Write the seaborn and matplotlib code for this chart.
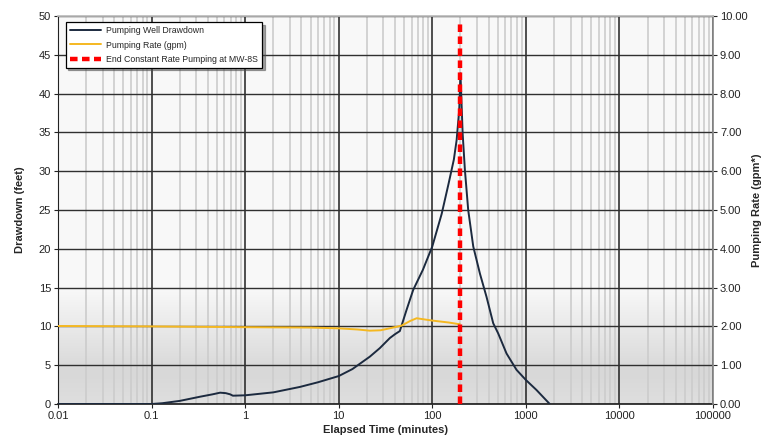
import numpy as np
import pandas as pd
import matplotlib
matplotlib.use("Agg")
import matplotlib.pyplot as plt
from matplotlib.colors import LinearSegmentedColormap
from matplotlib.lines import Line2D
import seaborn as sns

# Pumping well drawdown (feet) vs elapsed time (minutes)
drawdown_time = [0.01, 0.05, 0.1, 0.13, 0.2, 0.33, 0.45, 0.54, 0.62, 0.69, 0.74, 1.0,
                 2.0, 3.85, 6.0, 10.0, 14.0, 21.5, 27.5, 35.2, 40.0, 45.0, 53.0, 62.5,
                 79.4, 100.0, 126.0, 150.0, 170.0, 182.0, 194.0, 200.0, 211.0, 223.0,
                 242.0, 274.0, 323.0, 380.0, 448.0, 506.0, 622.0, 795.0, 1000.0,
                 1300.0, 1800.0]
drawdown_ft = [0.0, 0.0, 0.0, 0.1, 0.4, 0.94, 1.25, 1.46, 1.4, 1.25, 1.07, 1.12,
               1.5, 2.2, 2.8, 3.6, 4.5, 6.1, 7.2, 8.5, 9.0, 9.4, 12.1, 14.7,
               17.3, 20.3, 24.5, 28.5, 31.5, 34.0, 37.9, 42.6, 34.9, 30.2,
               25.0, 20.3, 16.8, 13.8, 10.4, 9.1, 6.5, 4.4, 3.1,
               1.8, 0.0]

# Pumping rate (gpm*) vs elapsed time (minutes)
rate_time = [0.01, 0.1, 1.0, 5.0, 10.0, 16.0, 21.5, 28.0, 35.0, 47.0, 58.0, 68.0,
             100.0, 150.0, 190.0, 196.0]
rate_gpm = [2.01, 2.0, 1.98, 1.97, 1.95, 1.92, 1.89, 1.90, 1.95, 2.02, 2.14, 2.21,
            2.15, 2.10, 2.06, 2.07]

END_PUMPING_TIME = 200.0

drawdown_df = pd.DataFrame({"time": drawdown_time, "drawdown": drawdown_ft})
rate_df = pd.DataFrame({"time": rate_time, "rate": rate_gpm})

sns.set_theme(style="white")
plt.rcParams["font.family"] = ["Liberation Sans", "DejaVu Sans"]

fig = plt.figure(figsize=(7.66, 4.41), dpi=100)
ax = fig.add_axes([58 / 766, 1 - 404 / 441, 655 / 766, 388 / 441])
ax2 = ax.twinx()

# plot-area background: light on top, shading to grey toward the bottom
grad = np.concatenate([
    np.full(70, 0.0),
    np.linspace(0.0, 1.0, 22),
    np.linspace(1.0, 0.8, 8),
]).reshape(-1, 1)
cmap = LinearSegmentedColormap.from_list("bg", ["#f8f8f8", "#d8d8d8"])
ax.imshow(grad, cmap=cmap, aspect="auto", extent=[0, 1, 0, 1],
          transform=ax.transAxes, origin="upper", zorder=0, vmin=0, vmax=1,
          interpolation="bilinear")

ax.set_xscale("log")
ax.set_xlim(0.01, 100000)
ax.set_ylim(0, 50)
ax2.set_ylim(0, 10)

# grid
ax.set_yticks(np.arange(0, 51, 5))
ax.set_xticks([10.0 ** k for k in range(-2, 6)])
ax.set_xticklabels(["0.01", "0.1", "1", "10", "100", "1000", "10000", "100000"])
ax.xaxis.set_minor_locator(matplotlib.ticker.LogLocator(base=10, subs=np.arange(2, 10), numticks=100))
ax.xaxis.set_minor_formatter(matplotlib.ticker.NullFormatter())
ax.grid(True, which="minor", axis="x", color="#cccccc", linewidth=1.2, zorder=1)
ax.grid(True, which="major", axis="x", color="#202020", linewidth=1.1, zorder=1)
ax.grid(True, which="major", axis="y", color="#303030", linewidth=1.0, zorder=1)
ax.set_axisbelow(True)

sns.lineplot(data=drawdown_df, x="time", y="drawdown", ax=ax, color="#1c2a3f",
             linewidth=1.4, zorder=3, legend=False)
sns.lineplot(data=rate_df, x="time", y="rate", ax=ax2, color="#f5b820",
             linewidth=1.4, zorder=3, legend=False)
ax2.axvline(END_PUMPING_TIME, ymin=0, ymax=0.99, color="#ff0000", linewidth=3.2,
            linestyle=(0, (1.7, 1.0)), zorder=4)

ax2.set_yticks(np.arange(0, 10.01, 1))
ax2.set_yticklabels([f"{v:.2f}" for v in np.arange(0, 10.01, 1)])

for a in (ax, ax2):
    for s in a.spines.values():
        s.set_visible(False)
ax.spines["bottom"].set_visible(True)
ax.spines["bottom"].set_color("#222222")
ax.spines["left"].set_visible(True)
ax.spines["left"].set_color("#222222")
ax.spines["left"].set_linewidth(0.8)
ax2.spines["right"].set_visible(True)
ax2.spines["right"].set_color("#888888")
ax2.spines["top"].set_visible(True)
ax2.spines["top"].set_color("#bbbbbb")

ax.tick_params(axis="both", which="major", labelsize=8, colors="#222222",
               length=3, width=0.8, direction="out", left=True, bottom=True, pad=2)
ax.tick_params(axis="x", which="minor", length=0)
ax2.tick_params(axis="y", labelsize=8, colors="#222222", length=3, width=0.8,
                direction="out", right=True, pad=2)

ax.set_xlabel("Elapsed Time (minutes)", fontsize=8, fontweight="bold", labelpad=3)
ax.set_ylabel("Drawdown (feet)", fontsize=8, fontweight="bold", labelpad=10)
ax2.set_ylabel("Pumping Rate (gpm*)", fontsize=8, fontweight="bold", labelpad=3)

handles = [
    Line2D([], [], color="#1c2a3f", linewidth=1.4),
    Line2D([], [], color="#f5b820", linewidth=1.4),
    Line2D([], [], color="#ff0000", linewidth=3.2, linestyle=(0, (1.7, 1.0))),
]
labels = ["Pumping Well Drawdown", "Pumping Rate (gpm)", "End Constant Rate Pumping at MW-8S"]
leg = ax2.legend(handles, labels, loc="upper left", bbox_to_anchor=(0.005, 0.995),
                 fontsize=6.3, frameon=True, fancybox=False, shadow=True,
                 edgecolor="#000000", framealpha=1, handlelength=3.6,
                 borderpad=0.45, labelspacing=0.6, handletextpad=0.6)
leg.get_frame().set_linewidth(0.9)
leg.set_zorder(10)

fig.savefig("out.png", dpi=100)
